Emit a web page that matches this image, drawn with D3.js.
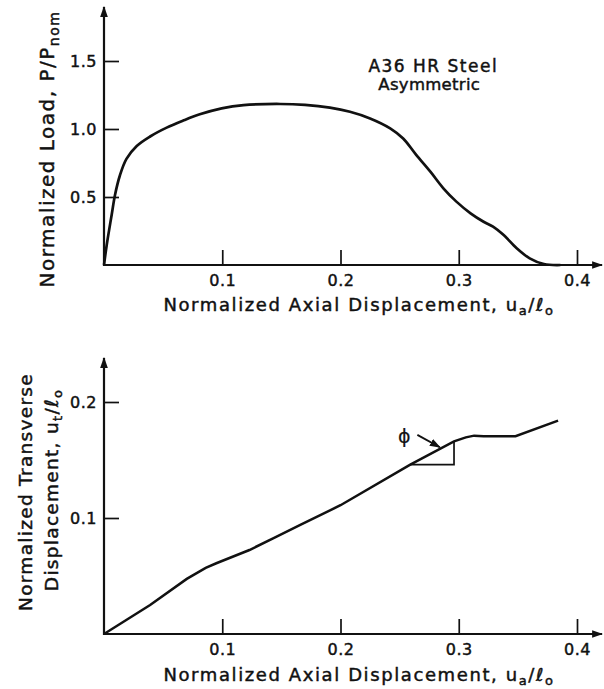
<!DOCTYPE html>
<html>
<head>
<meta charset="utf-8">
<script src="https://cdn.jsdelivr.net/npm/d3@7"></script>
<style>
    body { margin: 0; background: #fff; }
    text { font-family: "DejaVu Sans", sans-serif; fill: #111; stroke: #111; stroke-width: 0.45px; }
</style>
</head>
<body>
<div id="chart-container"></div>
<script>
// Load curve (top panel): normalized axial displacement vs P/Pnom
const loadDisp = [0, 0.0023, 0.0065, 0.0093, 0.0135, 0.019, 0.0277, 0.039, 0.053, 0.067, 0.081, 0.0995, 0.118, 0.149, 0.17, 0.191, 0.208, 0.225, 0.242, 0.253, 0.264, 0.276, 0.287, 0.298, 0.31, 0.321, 0.329, 0.338, 0.349, 0.36, 0.372, 0.386];
const loadValue = [0, 0.147, 0.37, 0.515, 0.66, 0.78, 0.875, 0.945, 1.01, 1.062, 1.108, 1.152, 1.176, 1.184, 1.177, 1.157, 1.127, 1.078, 1.005, 0.93, 0.81, 0.686, 0.564, 0.466, 0.38, 0.318, 0.282, 0.22, 0.123, 0.049, 0.007, 0];

// Transverse curve (bottom panel): axial displacement vs ut/lo
const transDisp = [0, 0.039, 0.07, 0.078, 0.086, 0.095, 0.123, 0.143, 0.166, 0.2, 0.259, 0.296, 0.306, 0.313, 0.321, 0.348, 0.384];
const transValue = [0, 0.025, 0.0475, 0.0523, 0.057, 0.061, 0.0724, 0.0825, 0.094, 0.111, 0.146, 0.166, 0.1695, 0.171, 0.1705, 0.1705, 0.184];

// Slope triangle for phi
const phiX = [0.259, 0.296, 0.296];
const phiY = [0.146, 0.146, 0.166];

const xTickValues = [0.1, 0.2, 0.3, 0.4];
const loadTickValues = [0.5, 1.0, 1.5];
const transTickValues = [0.1, 0.2];

const width = 604;
const height = 689;

const svg = d3.select("#chart-container")
    .append("svg")
    .attr("width", width)
    .attr("height", height);

// Arrowhead used on the axes and the phi pointer.
svg.append("defs").append("marker")
    .attr("id", "arrow")
    .attr("viewBox", "0 0 10 10")
    .attr("refX", 9)
    .attr("refY", 5)
    .attr("markerUnits", "userSpaceOnUse")
    .attr("markerWidth", 11)
    .attr("markerHeight", 11)
    .attr("orient", "auto")
    .append("path")
    .attr("d", "M0,1.5 L10,5 L0,8.5 Z")
    .attr("fill", "#111")
    .attr("stroke", "none");

const fmt = d3.format(".1f");

function addAxes(x, y, yTicks, xEnd, yEnd) {
    const g = svg.append("g");

    // x ticks point up into the plot
    g.append("g")
        .attr("transform", "translate(0," + y(0) + ")")
        .call(d3.axisBottom(x).tickValues(xTickValues).tickSize(-15).tickPadding(10).tickFormat(fmt))
        .call((a) => a.select(".domain").remove())
        .call((a) => a.selectAll("line").attr("stroke", "#111").attr("stroke-width", 1.7))
        .call((a) => a.selectAll("text").style("font-size", "16px").style("letter-spacing", "0.5px"));

    g.append("g")
        .attr("transform", "translate(" + x(0) + ",0)")
        .call(d3.axisLeft(y).tickValues(yTicks).tickSize(-15).tickPadding(7).tickFormat(fmt))
        .call((a) => a.select(".domain").remove())
        .call((a) => a.selectAll("line").attr("stroke", "#111").attr("stroke-width", 1.7))
        .call((a) => a.selectAll("text").style("font-size", "16px").style("letter-spacing", "0.5px"));

    g.append("line")
        .attr("x1", x(0)).attr("y1", y(0))
        .attr("x2", xEnd).attr("y2", y(0))
        .attr("stroke", "#111").attr("stroke-width", 2.2)
        .attr("marker-end", "url(#arrow)");

    g.append("line")
        .attr("x1", x(0)).attr("y1", y(0) + 1)
        .attr("x2", x(0)).attr("y2", yEnd)
        .attr("stroke", "#111").attr("stroke-width", 2.2)
        .attr("marker-end", "url(#arrow)");
}

function xTitle(xPos, yPos) {
    const t = svg.append("text")
        .attr("x", xPos).attr("y", yPos)
        .attr("text-anchor", "middle")
        .style("font-size", "18px")
        .style("letter-spacing", "1.6px");
    t.append("tspan").text("Normalized  Axial  Displacement, u");
    t.append("tspan").attr("dy", 4).style("font-size", "13px").text("a");
    t.append("tspan").attr("dy", -4).text("/ℓ");
    t.append("tspan").attr("dy", 4).style("font-size", "13px").text("o");
}

// ---- Top panel ----
const xTop = d3.scaleLinear().domain([0, 0.4]).range([104, 577]);
const yTop = d3.scaleLinear().domain([0, 1.5]).range([265, 61]);

addAxes(xTop, yTop, loadTickValues, 602, 7);

const loadData = loadDisp.map((d, i) => ({ x: d, y: loadValue[i] }));
svg.append("path")
    .datum(loadData)
    .attr("fill", "none")
    .attr("stroke", "#111")
    .attr("stroke-width", 2.7)
    .attr("d", d3.line()
        .x((d) => xTop(d.x))
        .y((d) => yTop(d.y))
        .curve(d3.curveCatmullRom.alpha(0.5)));

xTitle(359, 311);

const yLabTop = svg.append("text")
    .attr("transform", "translate(54,149) rotate(-90)")
    .attr("text-anchor", "middle")
    .style("font-size", "20px")
    .style("letter-spacing", "1.5px");
yLabTop.append("tspan").text("Normalized Load,  P/P");
yLabTop.append("tspan").attr("dy", 5).style("font-size", "14px").text("nom");

svg.append("text")
    .attr("x", xTop(0.2236)).attr("y", yTop(1.42))
    .style("font-size", "17px")
    .style("letter-spacing", "1.5px")
    .text("A36 HR Steel");
svg.append("text")
    .attr("x", xTop(0.232)).attr("y", yTop(1.29))
    .style("font-size", "16.5px")
    .style("letter-spacing", "0.3px")
    .text("Asymmetric");

// ---- Bottom panel ----
const xBot = d3.scaleLinear().domain([0, 0.4]).range([104, 577]);
const yBot = d3.scaleLinear().domain([0, 0.2]).range([634, 402]);

addAxes(xBot, yBot, transTickValues, 602, 358);

const transData = transDisp.map((d, i) => ({ x: d, y: transValue[i] }));
svg.append("path")
    .datum(transData)
    .attr("fill", "none")
    .attr("stroke", "#111")
    .attr("stroke-width", 2.5)
    .attr("d", d3.line()
        .x((d) => xBot(d.x))
        .y((d) => yBot(d.y)));

// slope triangle
const triData = phiX.map((d, i) => ({ x: d, y: phiY[i] }));
svg.append("path")
    .datum(triData)
    .attr("fill", "none")
    .attr("stroke", "#111")
    .attr("stroke-width", 1.7)
    .attr("d", d3.line().x((d) => xBot(d.x)).y((d) => yBot(d.y)));

svg.append("text")
    .attr("x", xBot(0.254)).attr("y", yBot(0.165))
    .attr("text-anchor", "middle")
    .style("font-size", "19px")
    .style("stroke-width", "0.2px")
    .text("ϕ");

svg.append("line")
    .attr("x1", xBot(0.265)).attr("y1", yBot(0.1716))
    .attr("x2", xBot(0.284)).attr("y2", yBot(0.161))
    .attr("stroke", "#111").attr("stroke-width", 1.9)
    .attr("marker-end", "url(#arrow)");

xTitle(359, 681);

svg.append("text")
    .attr("transform", "translate(32,492) rotate(-90)")
    .attr("text-anchor", "middle")
    .style("font-size", "18.5px")
    .style("letter-spacing", "1.3px")
    .text("Normalized Transverse");

const yLabBot2 = svg.append("text")
    .attr("transform", "translate(58,490) rotate(-90)")
    .attr("text-anchor", "middle")
    .style("font-size", "18.5px")
    .style("letter-spacing", "1.3px");
yLabBot2.append("tspan").text("Displacement,  u");
yLabBot2.append("tspan").attr("dy", 4).style("font-size", "13px").text("t");
yLabBot2.append("tspan").attr("dy", -4).text("/ℓ");
yLabBot2.append("tspan").attr("dy", 4).style("font-size", "13px").text("o");
</script>
</body>
</html>
